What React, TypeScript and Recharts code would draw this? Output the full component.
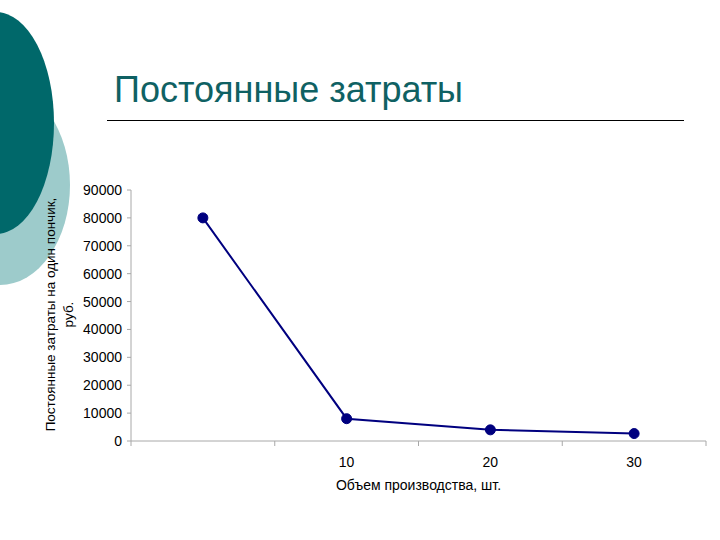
import React from "react";
import { LineChart, Line, XAxis, YAxis } from "recharts";

// categories along the volume axis (first one has no label)
const volumes = ["", "10", "20", "30"];
// fixed cost per donut, rub.
const costPerUnit = [80000, 8000, 4000, 2667];
const yTicks = [0, 10000, 20000, 30000, 40000, 50000, 60000, 70000, 80000, 90000];

const chartData = volumes.map((v, i) => ({ pos: i + 0.5, label: v, cost: costPerUnit[i] }));
const xTicks: number[] = [];
for (let i = 0; i <= volumes.length * 2; i++) xTicks.push(i / 2);

const FONT = "'Liberation Sans', Arial, sans-serif";

const VolumeTick = (props: any) => {
  const { x, y, payload } = props;
  const v = payload.value as number;
  if (Number.isInteger(v)) {
    return <line x1={x} y1={y - 8} x2={x} y2={y - 3} stroke="#a8a8a8" />;
  }
  const label = volumes[Math.floor(v)];
  return (
    <text x={x} y={y + 18} textAnchor="middle" fontSize={14} fontFamily={FONT} fill="#000">
      {label}
    </text>
  );
};

const YTitle = (props: any) => {
  const { viewBox } = props;
  const cy = viewBox.y + viewBox.height / 2 - 1;
  return (
    <g fontFamily={FONT} fontSize={13.5} fill="#000" textAnchor="middle">
      <text x={55} y={cy} transform={`rotate(-90 55 ${cy})`}>
        Постоянные затраты на один пончик,
      </text>
      <text x={73} y={cy} transform={`rotate(-90 73 ${cy})`}>
        руб.
      </text>
    </g>
  );
};

export default function App() {
  return (
    <div style={{ position: "absolute", left: 0, top: 0, width: 720, height: 540, background: "#fff", overflow: "hidden" }}>
      <div
        style={{
          position: "absolute",
          left: -70,
          top: 85,
          width: 140,
          height: 200,
          borderRadius: "50%",
          background: "#9dcbcb",
        }}
      />
      <div
        style={{
          position: "absolute",
          left: -62,
          top: 12,
          width: 116,
          height: 222,
          borderRadius: "50%",
          background: "#00686a",
        }}
      />
      <div
        style={{
          position: "absolute",
          left: 114,
          top: 69,
          fontFamily: FONT,
          fontSize: 36,
          color: "#0f6163",
          whiteSpace: "nowrap",
        }}
      >
        Постоянные затраты
      </div>
      <div style={{ position: "absolute", left: 107, top: 120, width: 577, height: 1, background: "#000" }} />
      <div style={{ position: "absolute", left: 0, top: 0 }}>
        <LineChart width={720} height={540} data={chartData} margin={{ top: 190, right: 14, bottom: 69, left: 71 }}>
          <XAxis
            type="number"
            dataKey="pos"
            domain={[0, volumes.length]}
            ticks={xTicks}
            interval={0}
            tickLine={false}
            axisLine={{ stroke: "#a8a8a8" }}
            tick={<VolumeTick />}
            height={30}
            label={{
              value: "Объем производства, шт.",
              position: "insideBottom",
              offset: -19,
              fontSize: 14,
              fontFamily: FONT,
              fill: "#000",
            }}
          />
          <YAxis
            domain={[0, 90000]}
            ticks={yTicks}
            interval={0}
            width={60}
            axisLine={{ stroke: "#a8a8a8" }}
            tickLine={{ stroke: "#a8a8a8" }}
            tickSize={4}
            tickMargin={5}
            tick={{ fontSize: 14, fontFamily: FONT, fill: "#000" }}
            label={<YTitle />}
          />
          <Line
            type="linear"
            dataKey="cost"
            stroke="#00007f"
            strokeWidth={2}
            dot={{ r: 5, fill: "#00007f", stroke: "#00007f", strokeWidth: 1 }}
            isAnimationActive={false}
          />
        </LineChart>
      </div>
    </div>
  );
}
